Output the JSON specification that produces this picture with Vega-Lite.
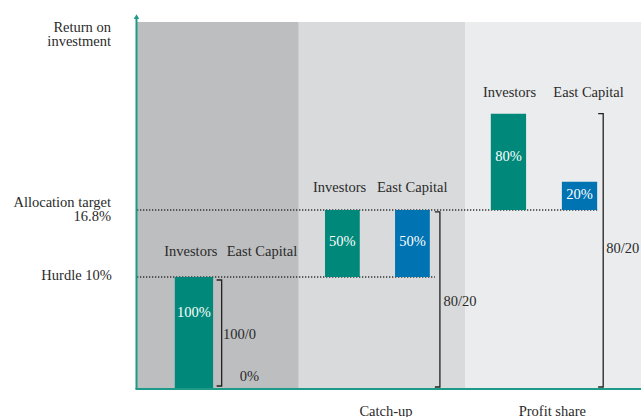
{
  "$schema": "https://vega.github.io/schema/vega-lite/v6.json",
  "width": 504,
  "height": 367,
  "autosize": "none",
  "padding": {"left": 137, "top": 22, "right": 0, "bottom": 28},
  "background": "white",
  "config": {
    "view": {"stroke": null},
    "text": {"font": "Liberation Serif", "fontSize": 14.5, "color": "#2a2a2a"}
  },
  "datasets": {
    "regions": [
      {"stage": "Hurdle", "x": 0, "x2": 32.1, "y": 0, "y2": 32.8},
      {"stage": "Catch-up", "x": 32.1, "x2": 65.1, "y": 0, "y2": 32.8},
      {"stage": "Profit share", "x": 65.1, "x2": 100, "y": 0, "y2": 32.8}
    ],
    "levels": [
      {"name": "Hurdle 10%", "x": 0, "x2": 59.1, "y": 10, "y2": 10},
      {"name": "Allocation target 16.8%", "x": 0, "x2": 91.3, "y": 16.8, "y2": 16.8}
    ],
    "bars": [
      {"who": "Investors", "stage": "Hurdle", "x": 7.5, "x2": 15.1, "y": 0, "y2": 10},
      {"who": "Investors", "stage": "Catch-up", "x": 37.3, "x2": 44.2, "y": 10, "y2": 16.8},
      {"who": "East Capital", "stage": "Catch-up", "x": 51.2, "x2": 58.1, "y": 10, "y2": 16.8},
      {"who": "Investors", "stage": "Profit share", "x": 70.2, "x2": 77.2, "y": 16.8, "y2": 25},
      {"who": "East Capital", "stage": "Profit share", "x": 84.3, "x2": 91.3, "y": 16.8, "y2": 19.2}
    ],
    "barLabels": [
      {"text": "100%", "x": 11.3, "y": 6.8},
      {"text": "50%", "x": 40.75, "y": 13.55},
      {"text": "50%", "x": 54.65, "y": 13.55},
      {"text": "80%", "x": 73.7, "y": 21.34},
      {"text": "20%", "x": 87.8, "y": 18.08}
    ],
    "groupLabels": [
      {"text": "Investors", "x": 10.67, "y": 12.57},
      {"text": "East Capital", "x": 24.8, "y": 12.57},
      {"text": "Investors", "x": 40.2, "y": 18.65},
      {"text": "East Capital", "x": 54.6, "y": 18.65},
      {"text": "Investors", "x": 73.9, "y": 26.73},
      {"text": "East Capital", "x": 89.6, "y": 26.73}
    ],
    "brackets": [
      {"b": "100/0", "ord": 1, "x": 15.8, "y": 9.73},
      {"b": "100/0", "ord": 2, "x": 16.8, "y": 9.73},
      {"b": "100/0", "ord": 3, "x": 16.8, "y": 0.27},
      {"b": "100/0", "ord": 4, "x": 15.8, "y": 0.27},
      {"b": "catch", "ord": 1, "x": 59.1, "y": 16.6},
      {"b": "catch", "ord": 2, "x": 60.1, "y": 16.6},
      {"b": "catch", "ord": 3, "x": 60.1, "y": 0.18},
      {"b": "catch", "ord": 4, "x": 59.1, "y": 0.18},
      {"b": "profit", "ord": 1, "x": 91.5, "y": 25.0},
      {"b": "profit", "ord": 2, "x": 92.5, "y": 25.0},
      {"b": "profit", "ord": 3, "x": 92.5, "y": 0.18},
      {"b": "profit", "ord": 4, "x": 91.5, "y": 0.18}
    ],
    "bracketLabels": [
      {"text": "100/0", "x": 17.06, "y": 4.82},
      {"text": "0%", "x": 20.4, "y": 1.1},
      {"text": "80/20", "x": 60.8, "y": 7.8},
      {"text": "80/20", "x": 93.1, "y": 12.81}
    ],
    "leftLabels": [
      {"text": "Return on\ninvestment", "x": -5.16, "y": 32.3},
      {"text": "Allocation target\n16.8%", "x": -5.16, "y": 17.4},
      {"text": "Hurdle 10%", "x": -5.0, "y": 10.1}
    ],
    "stageLabels": [
      {"text": "Catch-up", "x": 49.4, "y": -2.41},
      {"text": "Profit share", "x": 82.4, "y": -2.41}
    ],
    "axes": [
      {"axis": "y", "x": -0.1, "x2": -0.1, "y": 0, "y2": 33.05},
      {"axis": "x", "x": -0.3, "x2": 100, "y": 0, "y2": 0}
    ],
    "arrow": [
      {"x": -0.1, "y": 33.25}
    ]
  },
  "encoding": {
    "x": {"field": "x", "type": "quantitative", "scale": {"domain": [0, 100], "nice": false, "zero": false}, "axis": null},
    "y": {"field": "y", "type": "quantitative", "scale": {"domain": [0, 10, 16.8, 32.8], "range": [367, 255, 188, 0], "nice": false, "zero": false}, "axis": null}
  },
  "layer": [
    {
      "data": {"name": "regions"},
      "mark": {"type": "rect"},
      "encoding": {
        "x2": {"field": "x2"},
        "y2": {"field": "y2"},
        "color": {"field": "stage", "type": "nominal", "scale": {"domain": ["Hurdle", "Catch-up", "Profit share"], "range": ["#bdbec0", "#d9dadc", "#ebeced"]}, "legend": null}
      }
    },
    {
      "data": {"name": "levels"},
      "mark": {"type": "rule", "color": "#333333", "strokeWidth": 1.3, "strokeDash": [1.3, 1.7]},
      "encoding": {"x2": {"field": "x2"}, "y2": {"field": "y2"}}
    },
    {
      "data": {"name": "bars"},
      "mark": {"type": "rect"},
      "encoding": {
        "x2": {"field": "x2"},
        "y2": {"field": "y2"},
        "fill": {"field": "who", "type": "nominal", "scale": {"domain": ["Investors", "East Capital"], "range": ["#00897a", "#0073b2"]}, "legend": null}
      }
    },
    {
      "data": {"name": "barLabels"},
      "mark": {"type": "text", "color": "white", "align": "center", "baseline": "middle"},
      "encoding": {"text": {"field": "text"}}
    },
    {
      "data": {"name": "groupLabels"},
      "mark": {"type": "text", "align": "center", "baseline": "middle"},
      "encoding": {"text": {"field": "text"}}
    },
    {
      "data": {"name": "brackets"},
      "mark": {"type": "line", "color": "#222222", "strokeWidth": 1.3},
      "encoding": {
        "detail": {"field": "b"},
        "order": {"field": "ord", "type": "quantitative"}
      }
    },
    {
      "data": {"name": "bracketLabels"},
      "mark": {"type": "text", "align": "left", "baseline": "middle"},
      "encoding": {"text": {"field": "text"}}
    },
    {
      "data": {"name": "leftLabels"},
      "mark": {"type": "text", "align": "right", "baseline": "middle", "lineBreak": "\n", "lineHeight": 14.5},
      "encoding": {"text": {"field": "text"}}
    },
    {
      "data": {"name": "stageLabels"},
      "mark": {"type": "text", "align": "center", "baseline": "alphabetic"},
      "encoding": {"text": {"field": "text"}}
    },
    {
      "data": {"name": "axes"},
      "mark": {"type": "rule", "color": "#1f9a89", "strokeWidth": 2},
      "encoding": {"x2": {"field": "x2"}, "y2": {"field": "y2"}}
    },
    {
      "data": {"name": "arrow"},
      "mark": {"type": "point", "shape": "triangle-up", "filled": true, "color": "#1f9a89", "size": 30, "opacity": 1},
      "encoding": {}
    }
  ]
}
